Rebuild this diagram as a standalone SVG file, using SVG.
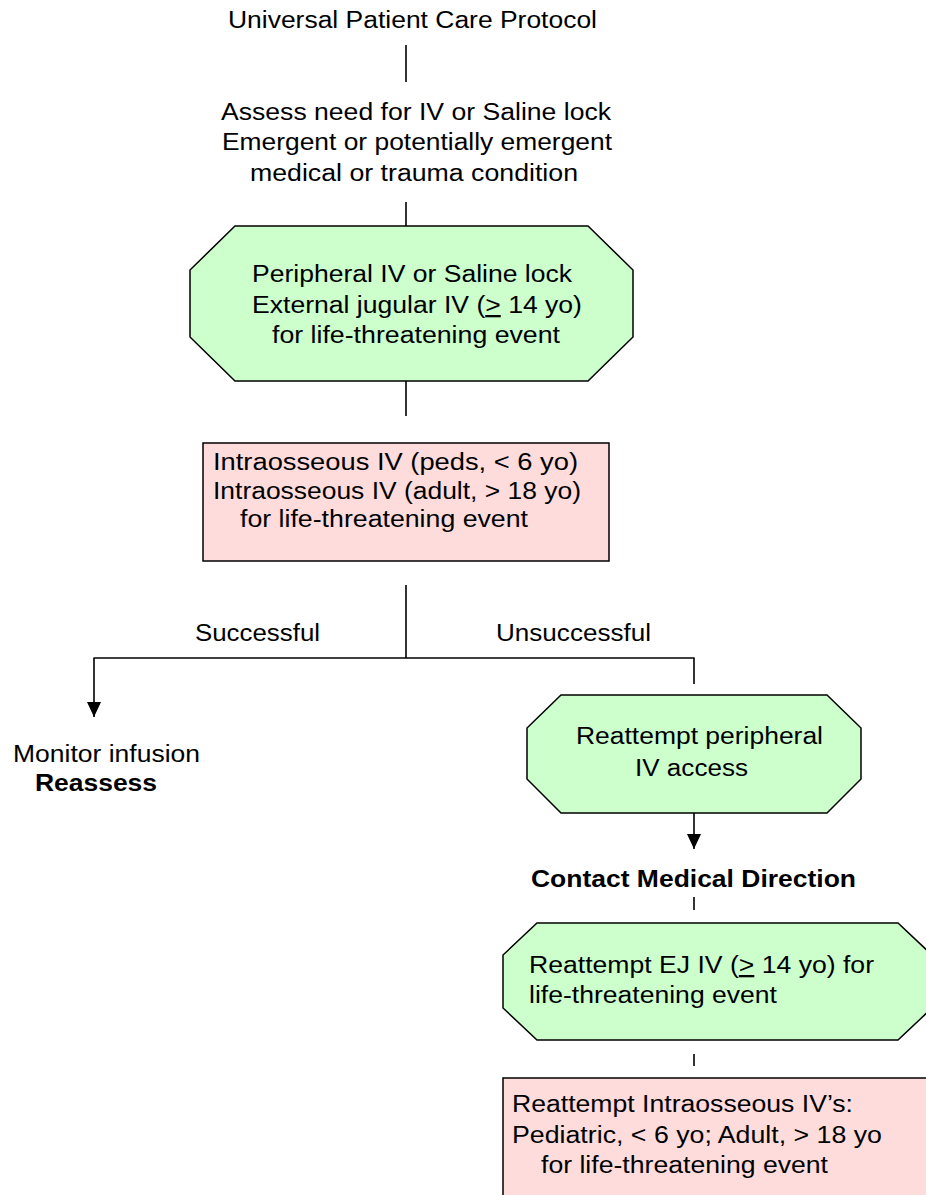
<svg xmlns="http://www.w3.org/2000/svg" width="926" height="1195" viewBox="0 0 926 1195">
<style>
  text { font-family: "Liberation Sans", Arial, sans-serif; font-size: 23px; fill: #000; }
  .b { font-weight: bold; }
  .green { fill: #CCFFCC; stroke: #000; stroke-width: 1.5; }
  .pink { fill: #FFDCDC; stroke: #000; stroke-width: 1.5; }
  .conn line { stroke: #000; stroke-width: 1.6; fill: none; }
  .u { text-decoration: underline; }
</style>
<defs>
  <marker id="arr" viewBox="0 0 15 14" refX="15" refY="7" markerWidth="15" markerHeight="14" markerUnits="userSpaceOnUse" orient="auto">
    <path d="M0,0 L15,7 L0,14 z" fill="#000"/>
  </marker>
</defs>
<rect width="926" height="1195" fill="#fff"/>

<g id="connectors" class="conn">
  <line x1="406" y1="45" x2="406" y2="82"/>
  <line x1="406" y1="202" x2="406" y2="226"/>
  <line x1="406" y1="381" x2="406" y2="416"/>
  <line x1="406" y1="585" x2="406" y2="658"/>
  <line x1="93.5" y1="658" x2="694.5" y2="658"/>
  <line x1="694" y1="658" x2="694" y2="684"/>
  <line x1="94" y1="658" x2="94" y2="717" marker-end="url(#arr)"/>
  <line x1="694" y1="813" x2="694" y2="849" marker-end="url(#arr)"/>
  <line x1="694" y1="897" x2="694" y2="910"/>
  <line x1="694" y1="1054" x2="694" y2="1066"/>
</g>

<g id="start">
  <text x="228" y="28" textLength="369" lengthAdjust="spacingAndGlyphs">Universal Patient Care Protocol</text>
</g>

<g id="assess">
  <text x="221" y="119.5" textLength="390" lengthAdjust="spacingAndGlyphs">Assess need for IV or Saline lock</text>
  <text x="222" y="150" textLength="390" lengthAdjust="spacingAndGlyphs">Emergent or potentially emergent</text>
  <text x="250" y="181" textLength="328" lengthAdjust="spacingAndGlyphs">medical or trauma condition</text>
</g>

<g id="peripheral">
  <polygon class="green" points="235,226 588,226 633,270 633,337 588,381 235,381 190,337 190,270"/>
  <text x="252" y="282" textLength="320" lengthAdjust="spacingAndGlyphs">Peripheral IV or Saline lock</text>
  <text x="252" y="313" textLength="330" lengthAdjust="spacingAndGlyphs">External jugular IV (<tspan class="u">&gt;</tspan> 14 yo)</text>
  <text x="272" y="343" textLength="288" lengthAdjust="spacingAndGlyphs">for life-threatening event</text>
</g>

<g id="intraosseous">
  <rect class="pink" x="203" y="443" width="406" height="118"/>
  <text x="213" y="470" textLength="365" lengthAdjust="spacingAndGlyphs">Intraosseous IV (peds, &lt; 6 yo)</text>
  <text x="213" y="498.5" textLength="368" lengthAdjust="spacingAndGlyphs">Intraosseous IV (adult, &gt; 18 yo)</text>
  <text x="240" y="527" textLength="288" lengthAdjust="spacingAndGlyphs">for life-threatening event</text>
</g>

<g id="labels">
  <text x="195" y="641" textLength="125" lengthAdjust="spacingAndGlyphs">Successful</text>
  <text x="496" y="641" textLength="155" lengthAdjust="spacingAndGlyphs">Unsuccessful</text>
</g>

<g id="monitor">
  <text x="13" y="762" textLength="187" lengthAdjust="spacingAndGlyphs">Monitor infusion</text>
  <text class="b" x="35" y="791" textLength="122" lengthAdjust="spacingAndGlyphs">Reassess</text>
</g>

<g id="reattempt-peripheral">
  <polygon class="green" points="561,695 827,695 861,728 861,779 827,813 561,813 527,779 527,728"/>
  <text x="576" y="744" textLength="247" lengthAdjust="spacingAndGlyphs">Reattempt peripheral</text>
  <text x="635" y="776" textLength="113" lengthAdjust="spacingAndGlyphs">IV access</text>
</g>

<g id="contact">
  <text class="b" x="531" y="887" textLength="325" lengthAdjust="spacingAndGlyphs">Contact Medical Direction</text>
</g>

<g id="reattempt-ej">
  <polygon class="green" points="537,923 898,923 932,955 932,1008 898,1040 537,1040 503,1008 503,955"/>
  <text x="529" y="973" textLength="345" lengthAdjust="spacingAndGlyphs">Reattempt EJ IV (<tspan class="u">&gt;</tspan> 14 yo) for</text>
  <text x="529" y="1003" textLength="248" lengthAdjust="spacingAndGlyphs">life-threatening event</text>
</g>

<g id="reattempt-io">
  <rect class="pink" x="503" y="1078" width="440" height="140"/>
  <text x="512" y="1112" textLength="341" lengthAdjust="spacingAndGlyphs">Reattempt Intraosseous IV’s:</text>
  <text x="512" y="1143" textLength="370" lengthAdjust="spacingAndGlyphs">Pediatric, &lt; 6 yo; Adult, &gt; 18 yo</text>
  <text x="541" y="1173" textLength="287" lengthAdjust="spacingAndGlyphs">for life-threatening event</text>
</g>
</svg>
